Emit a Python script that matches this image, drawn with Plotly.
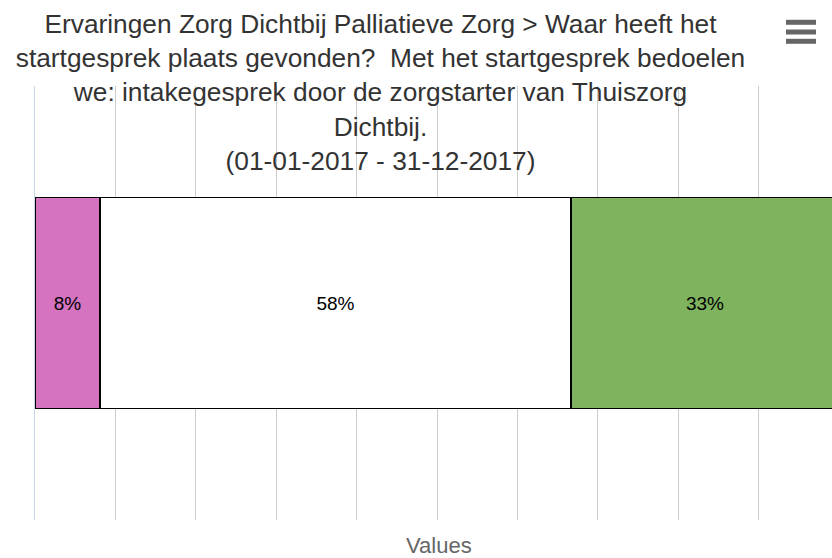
import plotly.graph_objects as go

# ---- data ----
category = ["Startgesprek"]
series_names = ["Optie 1", "Optie 2", "Optie 3"]
series_values = [8, 58, 33]
series_colors = ["#d573c0", "#ffffff", "#7fb35e"]

title_lines = [
    "Ervaringen Zorg Dichtbij Palliatieve Zorg > Waar heeft het",
    "startgesprek plaats gevonden?  Met het startgesprek bedoelen",
    "we: intakegesprek door de zorgstarter van Thuiszorg",
    "Dichtbij.",
    "(01-01-2017 - 31-12-2017)",
]
axis_title = "Values"

FONT = "Liberation Sans, Arial, Helvetica, sans-serif"

fig = go.Figure()
for name, val, col in zip(series_names, series_values, series_colors):
    fig.add_trace(go.Bar(
        y=[0], x=[val], name=name, orientation="h", width=0.486,
        marker=dict(color=col, line=dict(color="#000000", width=1.5)),
        text=[f"{val}%"], textposition="inside", insidetextanchor="middle",
        textangle=0, constraintext="none",
        textfont=dict(family=FONT, size=19, color="#000000"),
        hoverinfo="skip",
    ))

# figure is a bit wider than the 832px window; the overflow is hidden,
# so the 100% end of the axis sits just outside the visible area
W, H = 840, 558
ml, mr, mt, mb = 35, 1, 86, 38
plot_w = W - ml - mr

fig.update_layout(
    width=W, height=H,
    barmode="stack", barnorm="percent",
    showlegend=False,
    paper_bgcolor="#ffffff", plot_bgcolor="#ffffff",
    margin=dict(l=ml, r=mr, t=mt, b=mb, pad=0),
    font=dict(family=FONT, color="#333333"),
    title=dict(
        text="<br>".join(title_lines),
        x=380.5 / W, xanchor="center", xref="container",
        y=1 - 33 / H, yanchor="top", yref="container",
        font=dict(family=FONT, size=26.3, color="#333333"),
    ),
    xaxis=dict(
        range=[0, 100], dtick=10, tick0=0,
        showgrid=True, gridcolor="#cccccc", gridwidth=1,
        zeroline=False, showline=False, showticklabels=False, ticks="",
    ),
    yaxis=dict(
        range=[-0.5, 0.5], showgrid=False, zeroline=False,
        showticklabels=False, ticks="",
        showline=True, linecolor="#ccd6eb", linewidth=1,
    ),
    annotations=[dict(
        text=axis_title, xref="paper", yref="paper",
        x=(439 - ml) / plot_w, y=0, xanchor="center", yanchor="middle",
        yshift=-25, showarrow=False,
        font=dict(family=FONT, size=22, color="#666666"),
    )],
)

# hamburger (export menu) icon
right_px = W - mr
for cy in (22.3, 32.0, 41.3):
    fig.add_shape(
        type="line", xref="paper", yref="paper",
        xsizemode="pixel", ysizemode="pixel", xanchor=1, yanchor=1,
        x0=786 - right_px, x1=816 - right_px, y0=mt - cy, y1=mt - cy,
        line=dict(color="#666666", width=5),
    )

fig.write_html(
    "out.html",
    config={"displayModeBar": False},
    post_script="document.body.style.margin='0';document.body.style.overflow='hidden';"
                "document.documentElement.style.overflow='hidden';",
)
